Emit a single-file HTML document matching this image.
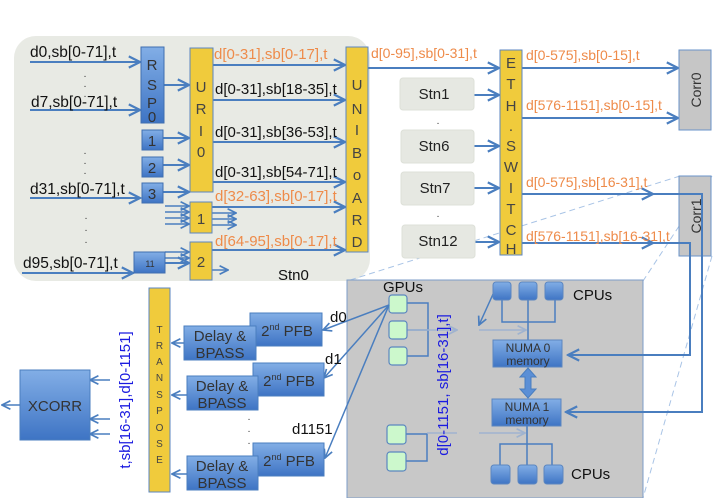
<!DOCTYPE html>
<html><head><meta charset="utf-8"><style>
html,body{margin:0;padding:0;background:#fff}
svg{display:block;font-family:"Liberation Sans",sans-serif}
</style></head><body>
<svg width="720" height="498" viewBox="0 0 720 498" xmlns="http://www.w3.org/2000/svg">
<defs>
<linearGradient id="bl" x1="0" y1="0" x2="0" y2="1"><stop offset="0" stop-color="#82aee6"/><stop offset="1" stop-color="#3e74c4"/></linearGradient>
<marker id="ar" viewBox="0 0 10 10" refX="9" refY="5" markerWidth="7" markerHeight="7" orient="auto"><path d="M1,1 L9,5 L1,9" fill="none" stroke="#4a7ebf" stroke-width="1.6"/></marker>
<marker id="arl" viewBox="0 0 10 10" refX="9" refY="5" markerWidth="7" markerHeight="7" orient="auto"><path d="M1,1 L9,5 L1,9" fill="none" stroke="#9fb3cf" stroke-width="1.6"/></marker>
</defs>
<rect x="14" y="36" width="356" height="245" rx="22" fill="#e8eae4"/>
<g stroke="#a9c4e6" stroke-dasharray="6,4" fill="none" stroke-width="1">
<line x1="680" y1="176" x2="347" y2="281"/>
<line x1="712" y1="176" x2="643" y2="281"/>
<line x1="712" y1="256" x2="643" y2="498"/>
</g>
<g stroke="#4a7ebf" stroke-width="2" fill="none" marker-end="url(#ar)">
<line x1="30" y1="62" x2="140" y2="62"/>
<line x1="30" y1="110" x2="140" y2="110"/>
<line x1="30" y1="198" x2="140" y2="198"/>
<line x1="22" y1="273" x2="133" y2="273"/>
<line x1="164" y1="85" x2="189" y2="85"/>
<line x1="163" y1="138" x2="189" y2="138"/>
<line x1="163" y1="165" x2="189" y2="165"/>
<line x1="163" y1="192" x2="189" y2="192"/>
<line x1="165" y1="263" x2="189" y2="263"/>
<line x1="213" y1="65" x2="345" y2="65"/>
<line x1="213" y1="100" x2="345" y2="100"/>
<line x1="213" y1="142" x2="345" y2="142"/>
<line x1="213" y1="182" x2="345" y2="182"/>
<line x1="212" y1="207" x2="345" y2="207"/>
<line x1="212" y1="250" x2="345" y2="250"/>
<line x1="368" y1="68" x2="499" y2="68"/>
<line x1="474" y1="95" x2="499" y2="95"/>
<line x1="474" y1="146" x2="499" y2="146"/>
<line x1="474" y1="188" x2="499" y2="188"/>
<line x1="474" y1="242" x2="499" y2="242"/>
<line x1="522" y1="68" x2="678" y2="68"/>
<line x1="522" y1="118" x2="678" y2="118"/>
<line x1="522" y1="194" x2="653" y2="194"/>
<line x1="522" y1="243" x2="653" y2="243"/>
</g>
<g stroke="#4a7ebf" stroke-width="1.5" fill="none" marker-end="url(#ar)">
<line x1="165" y1="206" x2="189" y2="206"/><line x1="165" y1="212" x2="189" y2="212"/><line x1="165" y1="218" x2="189" y2="218"/><line x1="165" y1="224" x2="189" y2="224"/>
<line x1="212" y1="213" x2="236" y2="213"/><line x1="212" y1="219" x2="236" y2="219"/><line x1="212" y1="225" x2="236" y2="225"/>
<line x1="165" y1="252" x2="189" y2="252"/><line x1="165" y1="258" x2="189" y2="258"/>
<line x1="205" y1="270" x2="228" y2="270"/>
</g>
<g fill="url(#bl)" stroke="#3f6fb0" stroke-width="1">
<rect x="141" y="47" width="23" height="76"/>
<rect x="142" y="130" width="21" height="20"/>
<rect x="142" y="157" width="21" height="20"/>
<rect x="142" y="183" width="21" height="20"/>
<rect x="134" y="252" width="31" height="21"/>
</g>
<g font-size="15" fill="#333" text-anchor="middle">
<text x="152" y="70">R</text><text x="152" y="90">S</text><text x="152" y="108">P</text><text x="152" y="122">0</text>
<text x="152" y="146">1</text><text x="152" y="173">2</text><text x="152" y="199">3</text>
<text x="150" y="267" font-size="9">11</text>
</g>
<g fill="#f0cb3c" stroke="#5b86c0" stroke-width="1">
<rect x="190" y="48" width="23" height="144"/>
<rect x="190" y="202" width="22" height="31"/>
<rect x="190" y="242" width="22" height="38"/>
<rect x="346" y="47" width="22" height="205"/>
<rect x="500" y="50" width="22" height="205"/>
<rect x="149" y="288" width="21" height="204"/>
<rect x="458" y="285" width="20" height="207"/>
</g>
<g font-size="15" fill="#444" text-anchor="middle">
<text x="201" y="92">U</text><text x="201" y="114">R</text><text x="201" y="136">I</text><text x="201" y="157">0</text>
<text x="201" y="224">1</text><text x="201" y="267">2</text>
<text x="357" y="90">U</text><text x="357" y="114">N</text><text x="357" y="135">I</text><text x="357" y="158">B</text><text x="357" y="180">o</text><text x="357" y="203">A</text><text x="357" y="225">R</text><text x="357" y="247">D</text>
<text x="511" y="68">E</text><text x="511" y="89">T</text><text x="511" y="111">H</text><text x="511" y="131">.</text><text x="511" y="151">S</text><text x="511" y="172">W</text><text x="511" y="193">I</text><text x="511" y="214">T</text><text x="511" y="235">C</text><text x="511" y="254">H</text>
</g>
<g font-size="10" fill="#444" text-anchor="middle">
<text x="159.5" y="333">T</text><text x="159.5" y="349">R</text><text x="159.5" y="365">A</text><text x="159.5" y="381">N</text><text x="159.5" y="398">S</text><text x="159.5" y="414">P</text><text x="159.5" y="431">O</text><text x="159.5" y="447">S</text><text x="159.5" y="463">E</text>
<g font-size="12"><text x="468" y="302">A</text><text x="468" y="317">L</text><text x="468" y="331">I</text><text x="468" y="346">G</text><text x="468" y="361">N</text><text x="468" y="375">+</text><text x="468" y="390">C</text><text x="468" y="405">O</text><text x="468" y="420">L</text><text x="468" y="434">L</text><text x="468" y="449">A</text><text x="468" y="464">T</text><text x="468" y="481">E</text></g>
</g>
<g font-size="15.5" fill="#111">
<text x="30" y="57">d0,sb[0-71],t</text>
<text x="31" y="107">d7,sb[0-71],t</text>
<text x="30" y="194">d31,sb[0-71],t</text>
<text x="23" y="268">d95,sb[0-71],t</text>
</g>
<g font-size="15" fill="#111">
<text x="215" y="94">d[0-31],sb[18-35],t</text>
<text x="215" y="137">d[0-31],sb[36-53],t</text>
<text x="215" y="177">d[0-31],sb[54-71],t</text>
<text x="278" y="280">Stn0</text>
</g>
<g font-size="15" fill="#ee8b4a">
<text x="214" y="59">d[0-31],sb[0-17],t</text>
<text x="215" y="201">d[32-63],sb[0-17],t</text>
<text x="215" y="246">d[64-95],sb[0-17],t</text>
</g>
<g font-size="14" fill="#ee8b4a">
<text x="371" y="58">d[0-95],sb[0-31],t</text>
<text x="526" y="60">d[0-575],sb[0-15],t</text>
<text x="526" y="110">d[576-1151],sb[0-15],t</text>
<text x="526" y="187">d[0-575],sb[16-31],t</text>
<text x="526" y="241">d[576-1151],sb[16-31],t</text>
</g>
<g fill="#333" font-size="10" text-anchor="middle">
<text x="85" y="77">.</text><text x="85" y="87">.</text><text x="85" y="97">.</text>
<text x="85" y="154">.</text><text x="85" y="164">.</text><text x="85" y="174">.</text>
<text x="86" y="219">.</text><text x="86" y="231">.</text><text x="86" y="243">.</text>
<text x="438" y="124">.</text><text x="438" y="134">.</text><text x="438" y="144">.</text>
<text x="438" y="217">.</text><text x="438" y="227">.</text><text x="438" y="237">.</text>
<text x="249" y="420">.</text><text x="249" y="432">.</text><text x="249" y="444">.</text>
</g>
<g fill="#e6e8e2" stroke="#dde0d8">
<rect x="400" y="78" width="74" height="32" rx="3"/>
<rect x="401" y="130" width="73" height="33" rx="3"/>
<rect x="401" y="172" width="73" height="33" rx="3"/>
<rect x="402" y="225" width="73" height="33" rx="3"/>
</g>
<g font-size="15" fill="#222" text-anchor="middle">
<text x="434" y="99">Stn1</text><text x="434" y="151">Stn6</text><text x="435" y="193">Stn7</text><text x="438" y="246">Stn12</text>
</g>
<rect x="679" y="50" width="32" height="80" fill="#c6c6c6" stroke="#6a93c8"/>
<rect x="679" y="176" width="32" height="80" fill="#c6c6c6" stroke="#6a93c8"/>
<text transform="translate(701,90) rotate(-90)" font-size="14" fill="#333" text-anchor="middle">Corr0</text>
<text transform="translate(701,216) rotate(-90)" font-size="14" fill="#333" text-anchor="middle">Corr1</text>
<rect x="347" y="280" width="296" height="218" fill="#c8c8c8" stroke="#7c9cc8"/>
<g stroke="#4a7ebf" stroke-width="2" fill="none">
<polyline points="653,194 702,194 702,412 566,412" marker-end="url(#ar)"/>
<polyline points="653,243 690,243 690,355 568,355" marker-end="url(#ar)"/>
</g>
<g stroke="#4a7ebf" stroke-width="1.5" fill="none">
<polyline points="407,303 428,303 428,356 407,356"/>
<line x1="407" y1="330" x2="428" y2="330"/>
<polyline points="406,434 427,434 427,461 406,461"/>
<polyline points="502,300 502,322 555,322 555,300"/>
<line x1="528" y1="300" x2="528" y2="340"/>
<polyline points="500,465 500,444 552,444 552,465"/>
<line x1="527" y1="426" x2="527" y2="465"/>
<line x1="494" y1="292" x2="479" y2="325" marker-end="url(#ar)"/>
</g>
<g stroke="#9fb3cf" stroke-width="1.5" fill="none">
<line x1="407" y1="330" x2="457" y2="330" marker-end="url(#arl)"/>
<line x1="479" y1="330" x2="526" y2="330" marker-end="url(#arl)"/>
<line x1="427" y1="433" x2="457" y2="433"/>
<line x1="479" y1="433" x2="525" y2="433" marker-end="url(#arl)"/>
</g>
<g fill="#ccf8cc" stroke="#5b86c0" stroke-width="1.2">
<rect x="389" y="295" width="18" height="18" rx="3"/>
<rect x="389" y="321" width="18" height="18" rx="3"/>
<rect x="389" y="347" width="18" height="18" rx="3"/>
<rect x="387" y="425" width="19" height="19" rx="3"/>
<rect x="387" y="452" width="19" height="19" rx="3"/>
</g>
<text x="383" y="292" font-size="15" fill="#111">GPUs</text>
<g fill="url(#bl)" stroke="#5b86c0">
<rect x="493" y="282" width="18" height="18" rx="3"/><rect x="519" y="282" width="18" height="18" rx="3"/><rect x="545" y="282" width="18" height="18" rx="3"/>
<rect x="491" y="465" width="19" height="19" rx="3"/><rect x="518" y="465" width="19" height="19" rx="3"/><rect x="544" y="465" width="19" height="19" rx="3"/>
<rect x="493" y="340" width="69" height="27"/>
<rect x="492" y="399" width="69" height="27"/>
</g>
<text x="573" y="300" font-size="15" fill="#111">CPUs</text>
<text x="571" y="479" font-size="15" fill="#111">CPUs</text>
<g font-size="12" fill="#333" text-anchor="middle">
<text x="528" y="352">NUMA 0</text><text x="528" y="365">memory</text>
<text x="527" y="411">NUMA 1</text><text x="527" y="424">memory</text>
</g>
<path d="M528,368 L536,377 L531,377 L531,389 L536,389 L528,398 L520,389 L525,389 L525,377 L520,377 Z" fill="#5b8fd6" stroke="#4a7ebf"/>
<text transform="translate(448,385) rotate(-90)" font-size="15" fill="#1a1ae0" text-anchor="middle">d[0-1151, sb[16-31],t]</text>
<g stroke="#4a7ebf" stroke-width="1.5" fill="none" marker-end="url(#ar)">
<line x1="389" y1="305" x2="323" y2="330"/>
<line x1="389" y1="305" x2="324" y2="378"/>
<line x1="389" y1="305" x2="325" y2="458"/>
<line x1="193" y1="343" x2="172" y2="343"/>
<line x1="193" y1="395" x2="172" y2="395"/>
<line x1="193" y1="474" x2="172" y2="474"/>
<line x1="110" y1="380" x2="90" y2="380"/>
<line x1="110" y1="419" x2="90" y2="419"/>
<line x1="110" y1="434" x2="90" y2="434"/>
<line x1="20" y1="405" x2="2" y2="405"/>
</g>
<g fill="url(#bl)" stroke="#4a7ebf">
<rect x="250" y="313" width="72" height="33"/>
<rect x="253" y="363" width="71" height="33"/>
<rect x="253" y="443" width="71" height="33"/>
<rect x="184" y="326" width="72" height="34"/>
<rect x="187" y="376" width="71" height="34"/>
<rect x="187" y="456" width="71" height="34"/>
<rect x="20" y="370" width="70" height="70"/>
</g>
<g font-size="15" fill="#333" text-anchor="middle">
<text x="287" y="336">2<tspan font-size="9" dy="-6">nd</tspan><tspan dy="6"> PFB</tspan></text>
<text x="289" y="386">2<tspan font-size="9" dy="-6">nd</tspan><tspan dy="6"> PFB</tspan></text>
<text x="289" y="466">2<tspan font-size="9" dy="-6">nd</tspan><tspan dy="6"> PFB</tspan></text>
<text x="220" y="341">Delay &amp;</text><text x="220" y="358">BPASS</text>
<text x="222" y="391">Delay &amp;</text><text x="222" y="408">BPASS</text>
<text x="222" y="471">Delay &amp;</text><text x="222" y="488">BPASS</text>
<text x="55" y="411" font-size="15">XCORR</text>
</g>
<g font-size="15" fill="#111">
<text x="330" y="322">d0</text><text x="325" y="364">d1</text><text x="292" y="434">d1151</text>
</g>
<text transform="translate(130,400) rotate(-90)" font-size="15" fill="#1a1ae0" text-anchor="middle">t,sb[16-31],d[0-1151]</text>
</svg>
</body></html>
